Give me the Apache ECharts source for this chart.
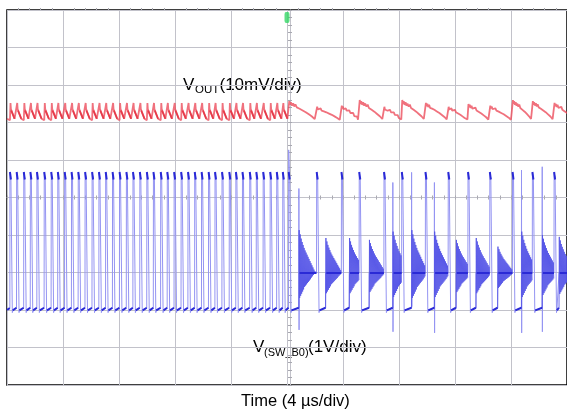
<!DOCTYPE html>
<html>
<head>
<meta charset="utf-8">
<script src="https://cdn.jsdelivr.net/npm/echarts@6/dist/echarts.min.js"></script>
<style>
  html, body { margin: 0; padding: 0; background: #fff; }
  #chart { width: 567px; height: 414px; }
</style>
</head>
<body>
<div id="chart"></div>
<script>
// Time in µs (4 µs/div, trigger at 0); voltage in screen divisions from the bottom edge.
const leftEdges = [-19.79,-19.31,-18.80,-18.33,-17.86,-17.34,-16.84,-16.37,-15.88,-15.39,
  -14.91,-14.42,-13.92,-13.43,-12.95,-12.46,-11.96,-11.47,-11.00,-10.51,-10.01,-9.54,-9.02,
  -8.55,-8.06,-7.56,-7.07,-6.59,-6.10,-5.60,-5.14,-4.64,-4.12,-3.65,-3.18,-2.66,-2.19,-1.70,
  -1.20,-0.73,-0.30];
const rightEdges = [0.12, 2.12, 3.89, 5.16, 6.93, 8.20, 9.89, 11.52, 12.93, 14.49, 16.11, 17.53, 19.08];
const ringStarts = [0.85, 2.76, 4.45, 5.87, 7.56, 8.90, 10.53, 12.08, 13.50, 15.05, 16.75, 18.23, 19.43];
const ringPeaks  = [4.13, 3.92, 3.92, 3.87, 4.09, 4.13, 4.09, 3.87, 3.92, 3.69, 4.09, 4.00, 3.95];
const ringSpikeHigh = [5.24, null, null, null, 5.40, 5.67, 5.40, null, null, null, 5.73, 5.82, null];
const ringSpikeLow  = [1.47, null, null, null, 1.42, 2.09, 1.39, null, null, null, 1.39, 1.42, null];
// normalised ringing swing, one value per half cycle
const ringShape = [1, -0.6, 0.9, -0.55, 0.8, -0.5, 0.72, -0.45, 0.65, -0.4, 0.58, -0.34, 0.52,
  -0.31, 0.47, -0.28, 0.42, -0.25, 0.37, -0.22, 0.32, -0.19, 0.27, -0.16, 0.22, -0.12, 0.17,
  -0.09, 0.12, -0.06, 0.07, -0.03, 0.03, 0];
const ringStep = 0.035;
const swLevels = { low: 2.0, high: 5.52, ring: 3.0, topMark: 5.68, trigTop: 6.27 };

// Vout ripple
const voutLeftShape = [[0, 7.06], [0.04, 7.52], [0.07, 7.36], [0.09, 7.32], [0.33, 7.1], [0.44, 7.06]];
const voutLeftDark = [[0.09, 7.32], [0.33, 7.1]];
const voutRightPeaks = [7.60, 7.44, 7.47, 7.63, 7.44, 7.63, 7.55, 7.44, 7.52, 7.47, 7.63, 7.60, 7.55];
const voutRightShape = [[0,0.05],[0.02,0.95],[0.05,0.78],[0.08,0.9],[0.12,0.74],[0.16,0.85],[0.2,0.7],
  [0.24,0.8],[0.29,0.66],[0.34,0.75],[0.39,0.6],[0.44,0.68],[0.5,0.52],[0.55,0.6],[0.61,0.44],
  [0.66,0.52],[0.72,0.34],[0.77,0.42],[0.83,0.24],[0.88,0.3],[0.93,0.12],[0.97,0.15],[1,0.04]];
const voutBase = 7.02;
const triggerTime = [0];

// ---------- build traces ----------
const allEdges = leftEdges.concat(rightEdges);
const blueTrace = [[-20, 2.03]];
const darkSegs = [];
const ringPolys = [];
darkSegs.push({coords: [[-20, 2.0], [leftEdges[0] - 0.01, 2.05]]});
leftEdges.forEach((e, i) => {
  const next = allEdges[i + 1];
  blueTrace.push([e - 0.005, 2.05], [e, swLevels.topMark], [e + 0.07, 5.5], [e + 0.16, swLevels.high],
    [e + 0.17, 1.93], [e + 0.2, swLevels.low], [next - 0.01, 2.05]);
  darkSegs.push({coords: [[e, swLevels.topMark], [e + 0.07, 5.48]]});
  darkSegs.push({coords: [[e + 0.2, 1.99], [next - 0.01, 2.06]]});
});
rightEdges.forEach((e, i) => {
  const rs = ringStarts[i];
  const next = i + 1 < rightEdges.length ? rightEdges[i + 1] : 20.6;
  const before = i === 0 ? 2.05 : swLevels.ring;
  const top = i === 0 ? swLevels.trigTop : swLevels.topMark;
  blueTrace.push([e - 0.005, before], [e, top], [e + 0.07, 5.5], [e + 0.16, swLevels.high],
    [e + 0.17, 1.93], [e + 0.2, swLevels.low], [rs - 0.01, 2.05]);
  if (ringSpikeHigh[i] != null) {
    blueTrace.push([rs, ringSpikeHigh[i]], [rs + 0.012, ringSpikeLow[i]], [rs + 0.024, swLevels.ring]);
  } else {
    blueTrace.push([rs, swLevels.ring]);
  }
  blueTrace.push([next - 0.01, swLevels.ring]);
  darkSegs.push({coords: [[e, 5.68], [e + 0.07, 5.48]]});
  darkSegs.push({coords: [[e + 0.2, 1.99], [rs - 0.01, 2.06]]});
  darkSegs.push({coords: [[rs + 0.05, swLevels.ring], [next - 0.01, swLevels.ring]]});
  const poly = [[rs, 2.05]];
  ringShape.forEach((f, k) => {
    const t = rs + 0.02 + k * ringStep;
    if (t < next - 0.01) poly.push([t, swLevels.ring + f * (ringPeaks[i] - swLevels.ring)]);
  });
  ringPolys.push({coords: poly});
});

const redTrace = [[-20, 7.1]];
const redDark = [];
leftEdges.forEach(e => {
  voutLeftShape.forEach(([dt, v]) => redTrace.push([e + dt, v]));
  redDark.push({coords: voutLeftDark.map(([dt, v]) => [e + dt, v])});
});
rightEdges.forEach((e, i) => {
  const next = i + 1 < rightEdges.length ? rightEdges[i + 1] : 20.6;
  const span = next - e;
  voutRightShape.forEach(([f, r]) => redTrace.push([e + f * span, voutBase + r * (voutRightPeaks[i] - voutBase)]));
});

// ---------- chart ----------
const chart = echarts.init(document.getElementById('chart'), null, {renderer: 'canvas'});
const gridCol = '#c2c2ca';
const tickCol = '#a8a8b0';
const FONT = '"Liberation Sans", Arial, sans-serif';
chart.setOption({
  animation: false,
  backgroundColor: '#fff',
  grid: {left: 7, top: 10, width: 566, height: 375, show: true, borderColor: '#000', borderWidth: 1.5, backgroundColor: '#fff'},
  xAxis: [
    {type: 'value', min: -20, max: 20, interval: 4, axisLine: {show: false}, axisTick: {show: false},
     axisLabel: {show: false}, splitLine: {show: true, lineStyle: {color: gridCol, width: 1}}},
    {type: 'value', min: -20, max: 20, interval: 4, position: 'bottom', offset: -187.5,
     axisLine: {show: true, lineStyle: {color: gridCol}}, axisTick: {show: true, inside: true, length: 2, lineStyle: {color: tickCol}},
     minorTick: {show: true, splitNumber: 5, length: 2, lineStyle: {color: tickCol}}, axisLabel: {show: false}, splitLine: {show: false}},
    {type: 'value', min: -20, max: 20, interval: 4, position: 'bottom', offset: -187.5,
     axisLine: {show: false}, axisTick: {show: true, inside: false, length: 2, lineStyle: {color: tickCol}},
     minorTick: {show: true, splitNumber: 5, length: 2, lineStyle: {color: tickCol}}, axisLabel: {show: false}, splitLine: {show: false}},
    {type: 'value', min: -20, max: 20, interval: 4, position: 'top',
     axisLine: {show: false}, axisTick: {show: false},
     minorTick: {show: true, splitNumber: 5, length: 2, lineStyle: {color: tickCol}}, axisLabel: {show: false}, splitLine: {show: false}}
  ],
  yAxis: [
    {type: 'value', min: 0, max: 10, interval: 1, axisLine: {show: false}, axisTick: {show: false},
     axisLabel: {show: false}, splitLine: {show: true, lineStyle: {color: gridCol, width: 1}}},
    {type: 'value', min: 0, max: 10, interval: 1, position: 'left', offset: -283,
     axisLine: {show: true, lineStyle: {color: gridCol}}, axisTick: {show: true, inside: true, length: 2, lineStyle: {color: tickCol}},
     minorTick: {show: true, splitNumber: 5, length: 2, lineStyle: {color: tickCol}}, axisLabel: {show: false}, splitLine: {show: false}},
    {type: 'value', min: 0, max: 10, interval: 1, position: 'left', offset: -283,
     axisLine: {show: false}, axisTick: {show: true, inside: false, length: 2, lineStyle: {color: tickCol}},
     minorTick: {show: true, splitNumber: 5, length: 2, lineStyle: {color: tickCol}}, axisLabel: {show: false}, splitLine: {show: false}}
  ],
  series: [
    {type: 'line', name: 'VOUT', data: redTrace, showSymbol: false, symbol: 'none',
     lineStyle: {color: '#ec4e5c', width: 1.8, opacity: 0.8}, z: 3},
    {type: 'lines', coordinateSystem: 'cartesian2d', data: redDark,
     lineStyle: {color: '#e4303f', width: 1.8, opacity: 0.85}, z: 4},
    {type: 'line', name: 'SW', data: blueTrace, showSymbol: false, symbol: 'none',
     lineStyle: {color: '#9494f2', width: 1}, z: 3},
    {type: 'lines', coordinateSystem: 'cartesian2d', polyline: true, data: ringPolys,
     lineStyle: {color: '#5454e6', width: 1, opacity: 0.85}, z: 4},
    {type: 'lines', coordinateSystem: 'cartesian2d', data: darkSegs,
     lineStyle: {color: '#2a2ad6', width: 2, opacity: 1}, z: 5},
    {type: 'scatter', data: triggerTime.map(t => [t, 9.8]), symbol: 'roundRect', symbolSize: [5, 11],
     itemStyle: {color: '#35d665'}, z: 6, silent: true}
  ],
  graphic: [
    {type: 'text', left: 183, top: 77, style: {text: 'V', font: '17px ' + FONT, fill: '#000'}},
    {type: 'text', left: 195, top: 83.5, style: {text: 'OUT', font: '11.5px ' + FONT, fill: '#000'}},
    {type: 'text', left: 219.5, top: 77, style: {text: '(10mV/div)', font: '17px ' + FONT, fill: '#000'}},
    {type: 'text', left: 253, top: 339, style: {text: 'V', font: '17px ' + FONT, fill: '#000'}},
    {type: 'text', left: 264, top: 347.5, style: {text: '(SW_B0)', font: '11px ' + FONT, fill: '#000'}},
    {type: 'text', left: 308, top: 339, style: {text: '(1V/div)', font: '17px ' + FONT, fill: '#000'}},
    {type: 'text', left: 241, top: 393, style: {text: 'Time (4 µs/div)', font: '16.5px ' + FONT, fill: '#000'}}
  ]
});
</script>
</body>
</html>
